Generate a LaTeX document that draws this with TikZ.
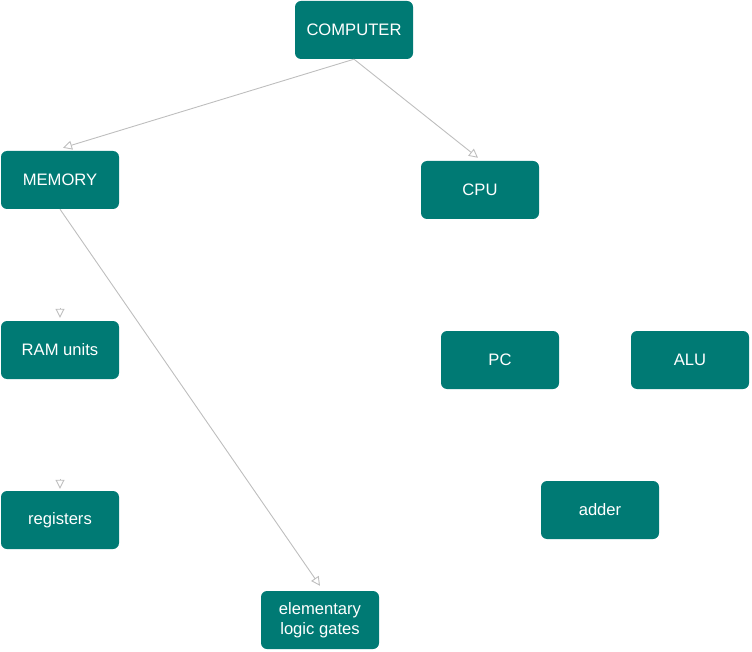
\documentclass[tikz,border=0pt]{standalone}
\usepackage{fontspec}
\setmainfont{Liberation Sans}
\usetikzlibrary{arrows.meta}
\definecolor{boxteal}{RGB}{0,122,116}
\definecolor{linegray}{RGB}{190,190,190}
\begin{document}
\begin{tikzpicture}[x=1pt,y=-1pt,
  box/.style={draw=none,fill=boxteal,rounded corners=6pt,minimum width=118pt,minimum height=58pt,
    text=white,font=\fontsize{16.6}{20}\selectfont,align=center,inner sep=2pt},
  arr/.style={draw=linegray,line width=0.9pt,-{Triangle[open,length=9pt,width=9pt]}}]
\useasboundingbox (0,0) rectangle (752,652);
\node[box] (comp) at (354,30) {COMPUTER};
\node[box] (mem) at (60,180) {MEMORY};
\node[box] (cpu) at (480,190) {CPU};
\node[box] (ram) at (60,350) {RAM units};
\node[box] (pc) at (500,360) {PC};
\node[box] (alu) at (690,360) {ALU};
\node[box] (reg) at (60,520) {registers};
\node[box] (add) at (600,510) {adder};
\node[box] (gates) at (320,620) {elementary\\logic gates};
\coordinate (ramtop) at ([yshift=13pt]ram.north);
\coordinate (regtop) at ([yshift=12pt]reg.north);
\draw[arr] (comp.south) -- ([xshift=3pt,yshift=3pt]mem.north);
\draw[arr] (comp.south) -- ([xshift=-2pt,yshift=3pt]cpu.north);
\draw[arr] (mem.south) -- ([yshift=5pt]gates.north);
\draw[arr] (ramtop) -- ([yshift=3pt]ram.north);
\draw[arr] (regtop) -- ([yshift=2pt]reg.north);
\end{tikzpicture}
\end{document}
